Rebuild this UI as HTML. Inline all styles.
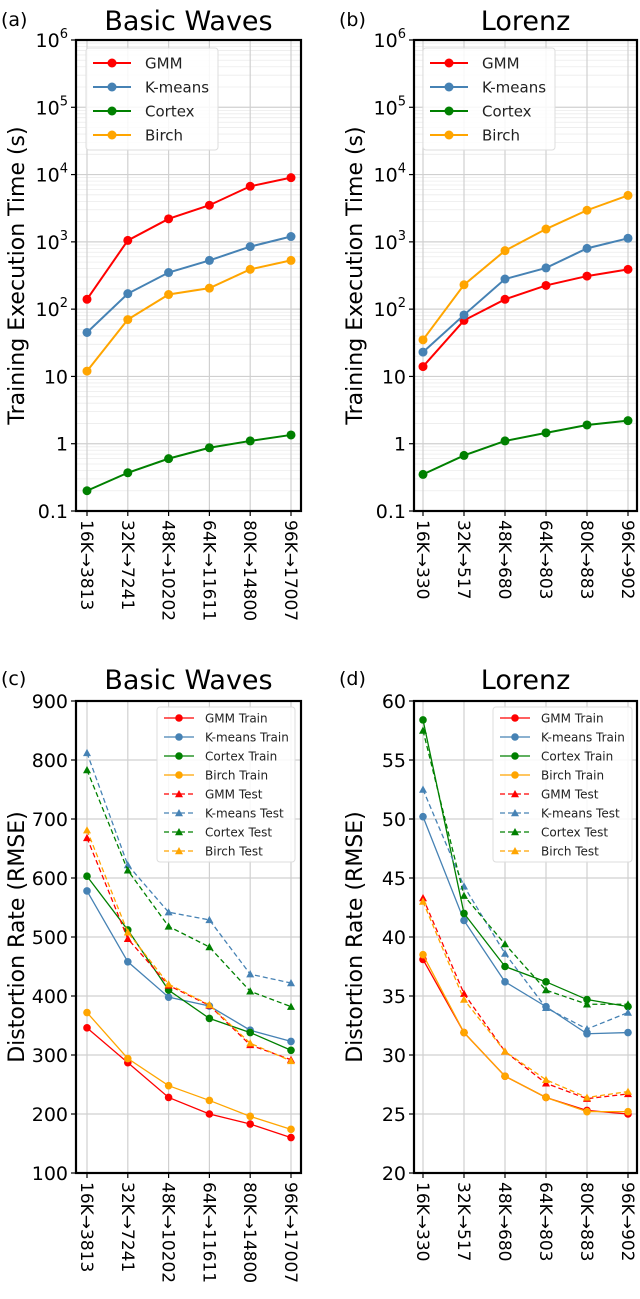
<!DOCTYPE html>
<html><head><meta charset="utf-8">
<style>
html,body{margin:0;padding:0;background:#fff;}
svg{display:block;font-family:"DejaVu Sans","Liberation Sans",sans-serif;}
</style></head>
<body>
<svg id="fig" width="640" height="1299" viewBox="0 0 640 1299" xmlns="http://www.w3.org/2000/svg"></svg>
<script>
const catsA = ["16K→3813","32K→7241","48K→10202","64K→11611","80K→14800","96K→17007"];
const catsB = ["16K→330","32K→517","48K→680","64K→803","80K→883","96K→902"];
const aGMM = [140,1050,2200,3500,6700,9000];
const aKmeans = [45,170,350,530,850,1200];
const aCortex = [0.2,0.37,0.6,0.87,1.1,1.35];
const aBirch = [12,70,165,205,390,530];
const bGMM = [14,68,140,225,310,390];
const bKmeans = [23,82,280,410,800,1130];
const bCortex = [0.35,0.67,1.1,1.45,1.9,2.2];
const bBirch = [35,230,740,1550,2950,4900];
const cGMMTrain = [346,287,228,200,183,160];
const cKmeansTrain = [578,458,398,383,342,323];
const cCortexTrain = [603,512,410,362,338,308];
const cBirchTrain = [372,294,248,223,196,174];
const cGMMTest = [668,497,418,384,317,292];
const cKmeansTest = [812,622,542,529,437,422];
const cCortexTest = [783,613,518,483,408,382];
const cBirchTest = [681,508,420,385,320,290];
const dGMMTrain = [38.1,31.9,28.2,26.4,25.3,25.0];
const dKmeansTrain = [50.2,41.4,36.2,34.1,31.8,31.9];
const dCortexTrain = [58.4,42.0,37.5,36.2,34.7,34.1];
const dBirchTrain = [38.5,31.9,28.2,26.4,25.2,25.2];
const dGMMTest = [43.3,35.2,30.3,27.6,26.3,26.7];
const dKmeansTest = [52.5,44.3,38.6,34.0,32.2,33.6];
const dCortexTest = [57.5,43.5,39.4,35.5,34.3,34.3];
const dBirchTest = [43.0,34.7,30.3,27.9,26.4,26.9];
const logTicks = [0.1,1,10,100,1000,10000,100000,1000000];
const logTickLabels = ["0.1","1","10","10^2","10^3","10^4","10^5","10^6"];
const cTicks = [100,200,300,400,500,600,700,800,900];
const dTicks = [20,25,30,35,40,45,50,55,60];

const NS="http://www.w3.org/2000/svg";
const svg=document.getElementById('fig');
function el(tag,attrs,parent){const e=document.createElementNS(NS,tag);for(const k in attrs)e.setAttribute(k,attrs[k]);(parent||svg).appendChild(e);return e;}
const RED="#ff0000",BLUE="#4682b4",GREEN="#008000",ORANGE="#ffa500";

function panel(cfg){
  const g=el('g',{});
  
  
  const L=cfg.L,R=cfg.R,T=cfg.T,B=cfg.B;
  const xs=i=>cfg.x0+i*cfg.dx;
  let ys;
  if(cfg.log){const lo=Math.log10(cfg.ymin),hi=Math.log10(cfg.ymax);ys=v=>B-(Math.log10(v)-lo)/(hi-lo)*(B-T);}
  else ys=v=>B-(v-cfg.ymin)/(cfg.ymax-cfg.ymin)*(B-T);
  if(cfg.log){
    for(let d=-1;d<6;d++)for(let m=2;m<10;m++){const y=ys(m*Math.pow(10,d));
      const l=el('line',{x1:L,x2:R,y1:y,y2:y,stroke:'#ececec','stroke-width':0.8},g);
      }
  }
  cfg.ticks.forEach((t,i)=>{const y=ys(t);
    const l=el('line',{x1:L,x2:R,y1:y,y2:y,stroke:'#d0d0d0','stroke-width':1.2},g);
    
    el('line',{x1:L-5,x2:L,y1:y,y2:y,stroke:'#000','stroke-width':1.2},g);
    const tx=el('text',{x:L-8,y:y+7,'text-anchor':'end','font-size':19,fill:'#000'},g);
    
    const lab=cfg.tickLabels[i];
    if(lab.indexOf('^')>0){const p=lab.split('^');tx.textContent=p[0];const s=el('tspan',{dy:-9,'font-size':13},tx);s.textContent=p[1];}
    else tx.textContent=lab;
  });
  cfg.cats.forEach((c,i)=>{const x=xs(i);
    const l=el('line',{x1:x,x2:x,y1:T,y2:B,stroke:'#d0d0d0','stroke-width':1.2},g);
    
    el('line',{x1:x,x2:x,y1:B,y2:B+5,stroke:'#000','stroke-width':1.2},g);
    const tx=el('text',{x:0,y:0,'font-size':17,fill:'#000',transform:`translate(${x-6},${B+9}) rotate(90)`},g);
    
    tx.textContent=c;
  });
  cfg.series.forEach(s=>{
    const pts=s.data.map((v,i)=>xs(i)+','+ys(v)).join(' ');
    const pl=el('polyline',{points:pts,fill:'none',stroke:s.color,'stroke-width':s.w,'stroke-dasharray':s.dash?'5,3':'none'},g);
    
    s.data.forEach((v,i)=>{const x=xs(i),y=ys(v);let m;
      if(s.tri)m=el('polygon',{points:`${x},${y-s.r} ${x-s.r},${y+s.r*0.8} ${x+s.r},${y+s.r*0.8}`,fill:s.color},g);
      else m=el('circle',{cx:x,cy:y,r:s.r,fill:s.color},g);
      });
  });
  const fr=el('rect',{x:L,y:T,width:R-L,height:B-T,fill:'none',stroke:'#000','stroke-width':2.2},g);
  
  const lg=el('g',{},g);
  el('rect',{x:cfg.lx,y:cfg.ly,width:cfg.lw,height:cfg.lh,fill:'#fff','fill-opacity':0.85,stroke:'#ddd',rx:3},lg);
  cfg.series.forEach((s,i)=>{const y=cfg.ly+cfg.lpad+i*cfg.lstep;const x=cfg.lx+7;
    const e=el('g',{},lg);
    el('line',{x1:x,x2:x+cfg.llen,y1:y,y2:y,stroke:s.color,'stroke-width':s.w,'stroke-dasharray':s.dash?'5,3':'none'},e);
    const cx=x+cfg.llen/2;
    if(s.tri)el('polygon',{points:`${cx},${y-s.r} ${cx-s.r},${y+s.r*0.8} ${cx+s.r},${y+s.r*0.8}`,fill:s.color},e);
    else el('circle',{cx:cx,cy:y,r:s.r,fill:s.color},e);
    const t=el('text',{x:x+cfg.llen+cfg.lgap,y:y+cfg.lfs*0.36,'font-size':cfg.lfs,fill:'#222'},e);t.textContent=s.label;});
  const tt=el('text',{x:(L+R)/2,y:cfg.titleY,'text-anchor':'middle','font-size':27,fill:'#000'},g);
  tt.textContent=cfg.title;
  const pl=el('text',{x:cfg.plX,y:cfg.titleY-4,'font-size':19,fill:'#000'},g);
  pl.textContent=cfg.panel;
  const yl=el('text',{x:0,y:0,'text-anchor':'middle','font-size':22,fill:'#000',transform:`translate(${cfg.ylX},${(T+B)/2}) rotate(-90)`},g);
  yl.textContent=cfg.ylabel;
}
function s4(gm,km,cx,bi){return [
 {key:'gmm',label:'GMM',data:gm,color:RED,w:2,r:4.5},
 {key:'kmeans',label:'K-means',data:km,color:BLUE,w:2,r:4.5},
 {key:'cortex',label:'Cortex',data:cx,color:GREEN,w:2,r:4.5},
 {key:'birch',label:'Birch',data:bi,color:ORANGE,w:2,r:4.5}];}
function s8(a){const n=['GMM','K-means','Cortex','Birch'],k=['gmm','kmeans','cortex','birch'],c=[RED,BLUE,GREEN,ORANGE];
 const out=[];for(let i=0;i<4;i++)out.push({key:k[i]+'-train',label:n[i]+' Train',data:a[i],color:c[i],w:1.3,r:3.8});
 for(let i=0;i<4;i++)out.push({key:k[i]+'-test',label:n[i]+' Test',data:a[i+4],color:c[i],w:1.3,r:4,tri:true,dash:true});return out;}
const logCommon={log:true,ymin:0.1,ymax:1e6,ticks:logTicks,tickLabels:logTickLabels,T:40,B:511,titleY:30,ylabel:'Training Execution Time (s)',
 lw:132,lh:102,lpad:15,lstep:24,llen:38,lgap:14,lfs:15};
panel(Object.assign({},logCommon,{name:'panel-a',panel:'(a)',title:'Basic Waves',L:76,R:301,x0:87,dx:40.8,cats:catsA,plX:1,ylX:24,lx:86,ly:48,series:s4(aGMM,aKmeans,aCortex,aBirch)}));
panel(Object.assign({},logCommon,{name:'panel-b',panel:'(b)',title:'Lorenz',L:414,R:637,x0:423,dx:41,cats:catsB,plX:339,ylX:362,lx:423,ly:48,series:s4(bGMM,bKmeans,bCortex,bBirch)}));
const linCommon={log:false,T:701,B:1173,titleY:689,ylabel:'Distortion Rate (RMSE)',lh:155,lpad:11,lstep:19,llen:30,lgap:11,lfs:12};
panel(Object.assign({},linCommon,{name:'panel-c',panel:'(c)',title:'Basic Waves',L:76,R:301,x0:87,dx:40.8,cats:catsA,ymin:100,ymax:900,ticks:cTicks,tickLabels:cTicks.map(String),plX:1,ylX:24,lx:157,ly:707,lw:138,
 series:s8([cGMMTrain,cKmeansTrain,cCortexTrain,cBirchTrain,cGMMTest,cKmeansTest,cCortexTest,cBirchTest])}));
panel(Object.assign({},linCommon,{name:'panel-d',panel:'(d)',title:'Lorenz',L:414,R:637,x0:423,dx:41,cats:catsB,ymin:20,ymax:60,ticks:dTicks,tickLabels:dTicks.map(String),plX:339,ylX:362,lx:493,ly:707,lw:139,
 series:s8([dGMMTrain,dKmeansTrain,dCortexTrain,dBirchTrain,dGMMTest,dKmeansTest,dCortexTest,dBirchTest])}));
</script>
</body></html>
